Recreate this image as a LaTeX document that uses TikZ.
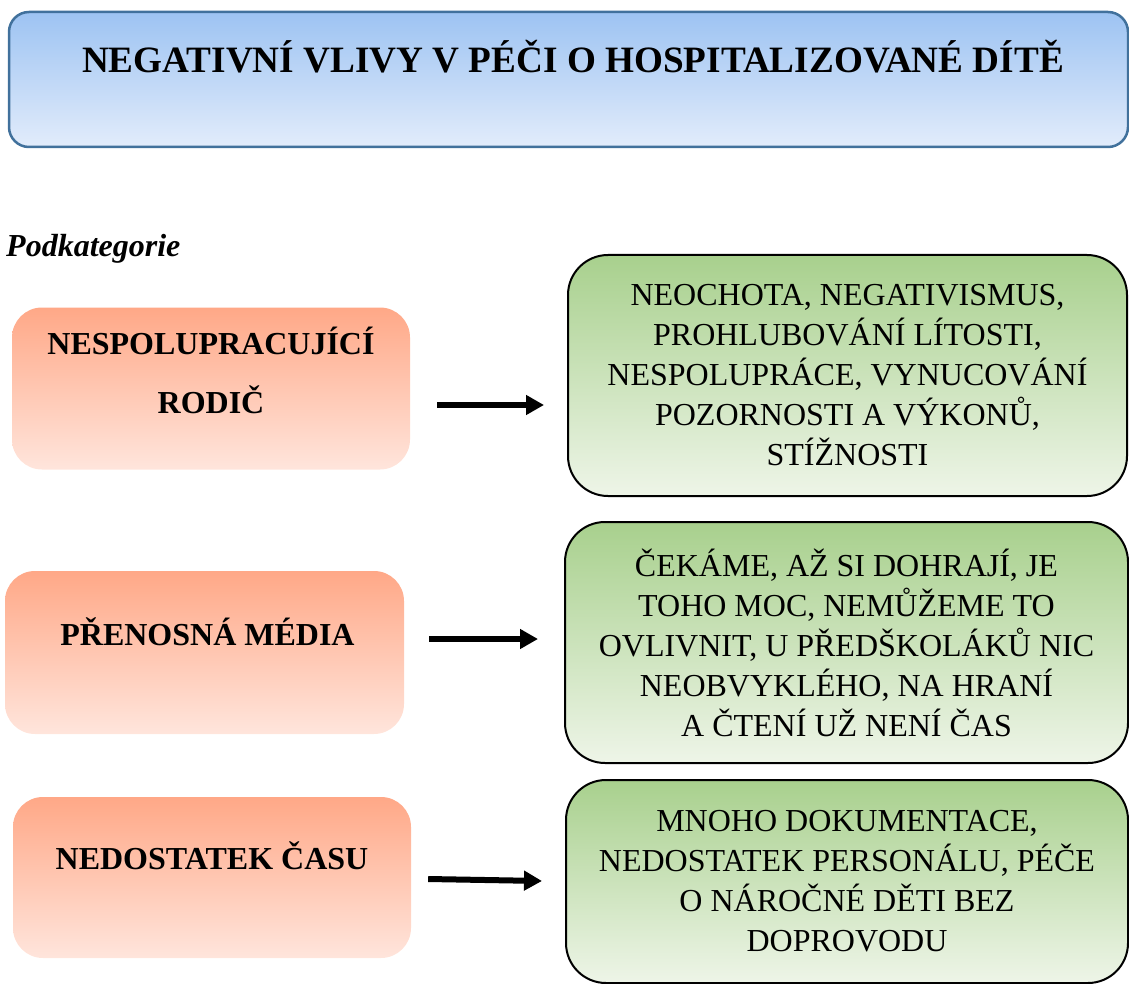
\documentclass[tikz,border=0pt]{standalone}
\usepackage{fontspec}
\setmainfont{Liberation Serif}
\usetikzlibrary{arrows.meta}

\definecolor{titletop}{RGB}{157,195,242}
\definecolor{titlebot}{RGB}{226,236,251}
\definecolor{titleedge}{RGB}{65,113,156}
\definecolor{cattop}{RGB}{255,168,135}
\definecolor{catbot}{RGB}{255,229,220}
\definecolor{desctop}{RGB}{168,208,141}
\definecolor{descbot}{RGB}{238,245,232}

\tikzset{
  titlebox/.style={draw=titleedge, line width=2.5pt, rounded corners=20pt,
    top color=titletop, bottom color=titlebot, inner sep=0pt,
    minimum width=1119pt, minimum height=135pt},
  titletext/.style={font=\fontsize{37.2}{44}\selectfont\bfseries, inner sep=0pt},
  subhead/.style={font=\fontsize{32}{38}\selectfont\bfseries\itshape, inner sep=0pt},
  catbox/.style={rounded corners=30pt, top color=cattop, bottom color=catbot,
    inner sep=0pt, minimum width=398pt, minimum height=162pt},
  cattext/.style={font=\fontsize{32}{59}\selectfont\bfseries, align=center, inner sep=0pt},
  descbox/.style={draw=black, line width=2pt, rounded corners=40pt,
    top color=desctop, bottom color=descbot, inner sep=0pt,
    font=\fontsize{32}{40}\selectfont, align=center},
  flow/.style={line width=6pt, -{Triangle[length=18pt,width=19pt]}},
}

\begin{document}
\begin{tikzpicture}[x=1pt,y=-1pt]
  \useasboundingbox (0,0) rectangle (1129,984);

  % heading
  \node[titlebox] (title) at (568.5,79.5) {};
  \node[titletext, anchor=base] (titlelbl) at (573,73)
    {NEGATIVNÍ VLIVY V PÉČI O HOSPITALIZOVANÉ DÍTĚ};

  \node[subhead, anchor=base west] (sub) at (6,257) {Podkategorie};

  % subcategories
  \node[catbox] (o1) at (211,388.5) {};
  \node[cattext] (o1t) at (211,370) {NESPOLUPRACUJÍCÍ\\RODIČ};

  \node[catbox, minimum width=399pt, minimum height=163pt] (o2) at (204.5,652.5) {};
  \node[cattext, anchor=base] (o2t) at (207.5,645) {PŘENOSNÁ MÉDIA};

  \node[catbox, minimum height=161pt] (o3) at (212,877.5) {};
  \node[cattext, anchor=base] (o3t) at (212,869) {NEDOSTATEK ČASU};

  % descriptions
  \node[descbox, minimum width=559pt, minimum height=241pt] (g1) at (847.5,375.5)
    {NEOCHOTA, NEGATIVISMUS,\\PROHLUBOVÁNÍ LÍTOSTI,\\NESPOLUPRÁCE, VYNUCOVÁNÍ\\POZORNOSTI A VÝKONŮ,\\STÍŽNOSTI};
  \node[descbox, minimum width=563pt, minimum height=241pt] (g2) at (846.5,642.5)
    {ČEKÁME, AŽ SI DOHRAJÍ, JE\\TOHO MOC, NEMŮŽEME TO\\OVLIVNIT, U PŘEDŠKOLÁKŮ NIC\\NEOBVYKLÉHO, NA HRANÍ\\A ČTENÍ UŽ NENÍ ČAS};
  \node[descbox, minimum width=562pt, minimum height=203pt] (g3) at (847,881.5)
    {MNOHO DOKUMENTACE,\\NEDOSTATEK PERSONÁLU, PÉČE\\O NÁROČNÉ DĚTI BEZ\\DOPROVODU};

  % arrows
  \draw[flow] ([xshift=27pt,yshift=-16.5pt]o1.east) -- ([xshift=-23pt,yshift=-29.5pt]g1.west);
  \draw[flow] ([xshift=25pt,yshift=13.5pt]o2.east) -- ([xshift=-26pt,yshift=3.5pt]g2.west);
  \draw[flow] ([xshift=17pt,yshift=-1.5pt]o3.east) -- ([xshift=-23pt,yshift=0.5pt]g3.west);
\end{tikzpicture}
\end{document}
